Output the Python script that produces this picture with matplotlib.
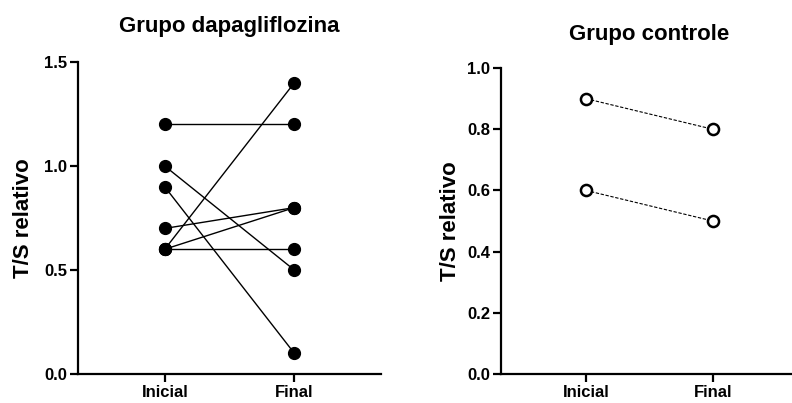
import matplotlib
matplotlib.use('Agg')
import matplotlib.pyplot as plt

plt.rcParams['font.family'] = ['Liberation Sans', 'DejaVu Sans']
plt.rcParams['font.weight'] = 'bold'

# dados
grupos = ["Inicial", "Final"]
dapa_inicial = [1.2, 1.0, 0.9, 0.7, 0.6, 0.6, 0.6]
dapa_final = [1.2, 0.5, 0.1, 0.8, 1.4, 0.8, 0.6]
ctrl_inicial = [0.9, 0.6]
ctrl_final = [0.8, 0.5]

fig = plt.figure(figsize=(7.92, 4.03), dpi=100)
ax1 = fig.add_axes([0.0985, 0.072, 0.3826, 0.774])
ax2 = fig.add_axes([0.6326, 0.072, 0.375, 0.759])

def style(ax, lpad):
    for s in ['top', 'right']:
        ax.spines[s].set_visible(False)
    for s in ['left', 'bottom']:
        ax.spines[s].set_linewidth(1.6)
    ax.tick_params(width=1.6, length=6, labelsize=12, pad=2)
    ax.set_xticks([0, 1])
    ax.set_xticklabels(grupos, fontweight='bold')
    ax.set_xlim(-0.67, 1.67)
    ax.set_ylabel("T/S relativo", fontsize=16, fontweight='bold', labelpad=lpad)
    for lab in ax.get_yticklabels():
        lab.set_fontweight('bold')

# grupo dapagliflozina
for a, b in zip(dapa_inicial, dapa_final):
    ax1.plot([0, 1], [a, b], color='black', lw=1, marker='o', ms=8.5,
             clip_on=False)
ax1.set_ylim(0, 1.5)
ax1.set_yticks([0, 0.5, 1.0, 1.5])
ax1.set_yticklabels(['0.0', '0.5', '1.0', '1.5'])
style(ax1, 7)
ax1.set_title("Grupo dapagliflozina", fontsize=16, fontweight='bold', pad=22)

# grupo controle
for a, b in zip(ctrl_inicial, ctrl_final):
    ax2.plot([0, 1], [a, b], color='black', lw=0.8, ls=(0, (3, 1.5)),
             marker='o', ms=8, mfc='white', mec='black', mew=1.8)
ax2.set_ylim(0, 1.0)
ax2.set_yticks([0, 0.2, 0.4, 0.6, 0.8, 1.0])
ax2.set_yticklabels(['0.0', '0.2', '0.4', '0.6', '0.8', '1.0'])
style(ax2, 4)
ax2.set_title("Grupo controle", fontsize=16, fontweight='bold', pad=20)

fig.savefig("out.png", dpi=100)
